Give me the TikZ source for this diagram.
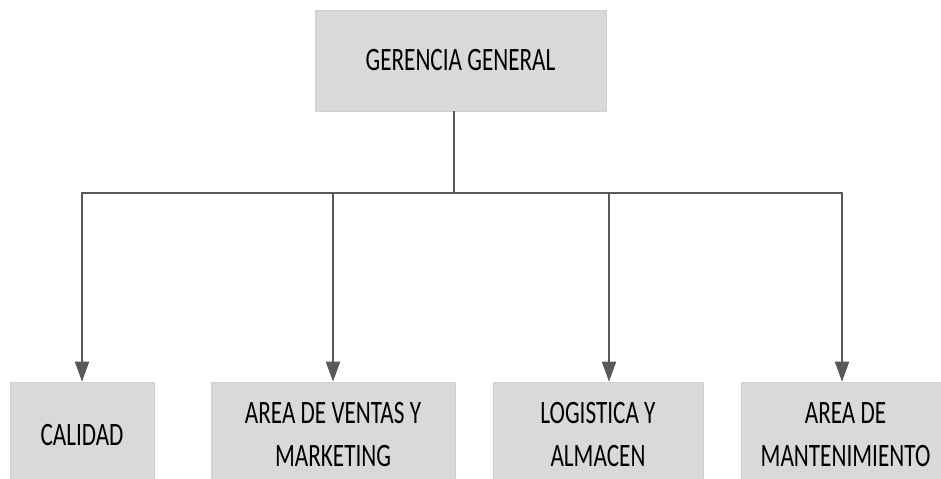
\documentclass[tikz,border=0pt]{standalone}
\usepackage{fontspec}
\setmainfont{Carlito}[FakeStretch=0.71]
\usetikzlibrary{arrows.meta}
\definecolor{boxfill}{HTML}{D9D9D9}
\definecolor{boxline}{HTML}{D0D0D0}
\definecolor{conn}{HTML}{595959}
\tikzset{
  orgbox/.style={fill=boxfill, draw=boxline, line width=0.5pt, align=center, inner sep=0pt,
    font=\fontsize{24.5}{32.25}\selectfont},
  conline/.style={draw=conn, line width=1.5pt},
  conarrow/.style={conline, -{Triangle[width=10.5pt,length=15pt]}, shorten >=0pt}
}
\begin{document}
\begin{tikzpicture}[x=0.75pt,y=-0.75pt]
\useasboundingbox (0,0) rectangle (941,478);
\clip (0,0) rectangle (941,478);
\fill[white] (0,0) rectangle (941,478);
\node[orgbox, minimum width=291*0.75pt, minimum height=101*0.75pt] (top) at (460.5,60.5) {GERENCIA GENERAL};
\node[orgbox, minimum width=144*0.75pt, minimum height=106*0.75pt] (b1) at (82,435) {CALIDAD};
\node[orgbox, minimum width=244*0.75pt, minimum height=106*0.75pt] (b2) at (333,435) {AREA DE VENTAS Y\\MARKETING};
\node[orgbox, minimum width=210*0.75pt, minimum height=106*0.75pt] (b3) at (598,435) {LOGISTICA Y\\ALMACEN};
\node[orgbox, minimum width=209*0.75pt, minimum height=106*0.75pt] (b4) at (845.5,435) {AREA DE\\MANTENIMIENTO};
\coordinate (j) at (454,193);
\coordinate (c1) at (82,193);
\coordinate (c2) at (333,193);
\coordinate (c3) at (609,193);
\coordinate (c4) at (842,193);
\draw[conline] (top.south -| j) -- (j);
\draw[conline] ([xshift=-0.75pt]c1) -- ([xshift=0.75pt]c4);
\draw[conarrow] (c1) -- (c1 |- b1.north);
\draw[conarrow] (c2) -- (c2 |- b2.north);
\draw[conarrow] (c3) -- (c3 |- b3.north);
\draw[conarrow] (c4) -- (c4 |- b4.north);
\end{tikzpicture}
\end{document}
